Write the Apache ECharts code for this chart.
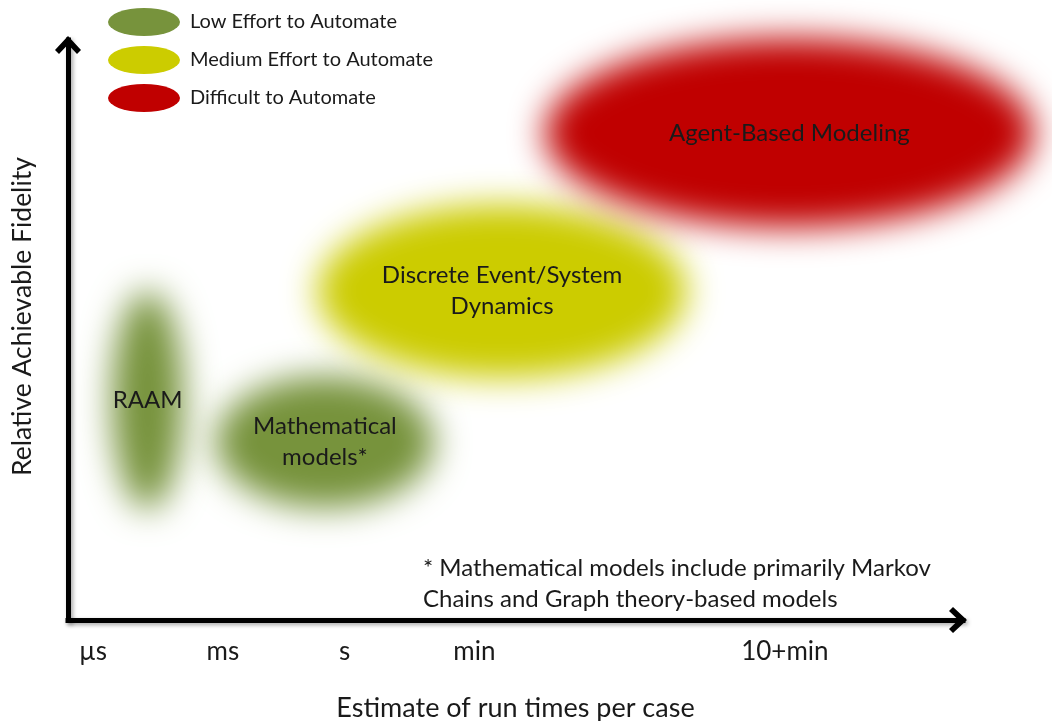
<!DOCTYPE html>
<html>
<head>
<meta charset="utf-8">
<title>Fidelity vs run time</title>
<script src="https://cdn.jsdelivr.net/npm/echarts@6/dist/echarts.min.js"></script>
<style>
  html, body { margin: 0; padding: 0; background: #fff; }
  #chart { width: 1052px; height: 721px; }
</style>
</head>
<body>
<div id="chart"></div>
<script>
// effort groups (legend)
const effortLevels = ['Low Effort to Automate', 'Medium Effort to Automate', 'Difficult to Automate'];
const effortColors = ['#77933C', '#CCCC00', '#C00000'];

// model families, placed on run time (x) vs fidelity (y), both 0..100
const modelNames = ['RAAM', 'Mathematical\nmodels*', 'Discrete Event/System\nDynamics', 'Agent-Based Modeling'];
const modelEffort = [0, 0, 1, 2];
const runTimeCenter = [8.9, 28.7, 48.5, 80.6];
const fidelityCenter = [37.9, 30.7, 56.7, 84.0];
const runTimeSpread = [4.0, 12.2, 20.6, 27.3];
const fidelitySpread = [18.8, 11.3, 14.9, 16.3];

// x axis tick labels
const tickValues = [2.8, 17.3, 30.9, 45.4, 80.1];
const tickLabels = ['µs', 'ms', 's', 'min', '10+min'];

const footnote = '* Mathematical models include primarily Markov\nChains and Graph theory-based models';

const FONT = 'Lato, "Open Sans", sans-serif';
const OFF = 3000; // draw shape off-screen, keep only its blurred shadow
const chevron = 'path://M13,0 L26,14 L22,18 L13,8.5 L4,18 L0,14 Z';
const ellipseIcon = 'path://M0,14 A36,14 0 1,0 72,14 A36,14 0 1,0 0,14 Z';

const chart = echarts.init(document.getElementById('chart'));

const axisLine = {
  show: true,
  symbol: ['none', chevron],
  symbolSize: [26, 20],
  symbolOffset: [0, -5],
  lineStyle: {
    color: '#000',
    width: 5,
    cap: 'square',
    shadowColor: 'rgba(0,0,0,0.35)',
    shadowBlur: 4,
    shadowOffsetX: 2,
    shadowOffsetY: 2
  }
};

const series = effortLevels.map((name, g) => {
  const idx = modelNames.map((_, i) => i).filter(i => modelEffort[i] === g);
  return {
    name: name,
    type: 'custom',
    itemStyle: { color: effortColors[g] },
    silent: true,
    data: idx.map(i => [runTimeCenter[i], fidelityCenter[i], runTimeSpread[i], fidelitySpread[i], i]),
    renderItem: (params, api) => {
      const c = api.coord([api.value(0), api.value(1)]);
      const s = api.size([api.value(2), api.value(3)]);
      const color = effortColors[g];
      return {
        type: 'group',
        children: [
          {
            type: 'ellipse',
            shape: { cx: c[0] - OFF, cy: c[1], rx: s[0], ry: s[1] },
            style: { fill: color, shadowColor: color, shadowBlur: 34, shadowOffsetX: OFF, shadowOffsetY: 0 }
          },
          {
            type: 'text',
            x: c[0],
            y: c[1],
            style: {
              text: modelNames[api.value(4)],
              fill: '#1a1a1a',
              font: '24px ' + FONT,
              align: 'center',
              verticalAlign: 'middle',
              lineHeight: 31
            }
          }
        ]
      };
    }
  };
});

const option = {
  animation: false,
  backgroundColor: '#fff',
  grid: { left: 68, right: 89, top: 40, bottom: 101, outerBoundsMode: 'none', containLabel: false },
  legend: {
    orient: 'vertical',
    left: 108,
    top: 8,
    padding: 0,
    itemWidth: 72,
    itemHeight: 28,
    itemGap: 10,
    icon: ellipseIcon,
    selectedMode: false,
    data: effortLevels,
    textStyle: { fontSize: 20, color: '#1a1a1a', fontFamily: FONT, padding: [0, 0, 0, 5] }
  },
  xAxis: {
    type: 'value',
    min: 0,
    max: 100,
    name: 'Estimate of run times per case',
    nameLocation: 'middle',
    nameGap: 75,
    nameTextStyle: { fontSize: 27, color: '#1a1a1a', fontFamily: FONT },
    axisLine: axisLine,
    axisTick: { show: false },
    splitLine: { show: false },
    axisLabel: {
      customValues: tickValues,
      formatter: v => tickLabels[tickValues.indexOf(v)],
      fontSize: 26,
      color: '#1a1a1a',
      fontFamily: FONT,
      margin: 19
    }
  },
  yAxis: {
    type: 'value',
    min: 0,
    max: 100,
    name: 'Relative Achievable Fidelity',
    nameLocation: 'middle',
    nameGap: 32,
    nameTextStyle: { fontSize: 26.5, color: '#1a1a1a', fontFamily: FONT, padding: [0, 0, 0, 27] },
    axisLine: axisLine,
    axisTick: { show: false },
    splitLine: { show: false },
    axisLabel: { show: false }
  },
  graphic: [
    {
      type: 'text',
      left: 423,
      top: 553,
      style: { text: footnote, font: '24px ' + FONT, fill: '#1a1a1a', lineHeight: 31 }
    }
  ],
  series: series
};

chart.setOption(option);
</script>
</body>
</html>
